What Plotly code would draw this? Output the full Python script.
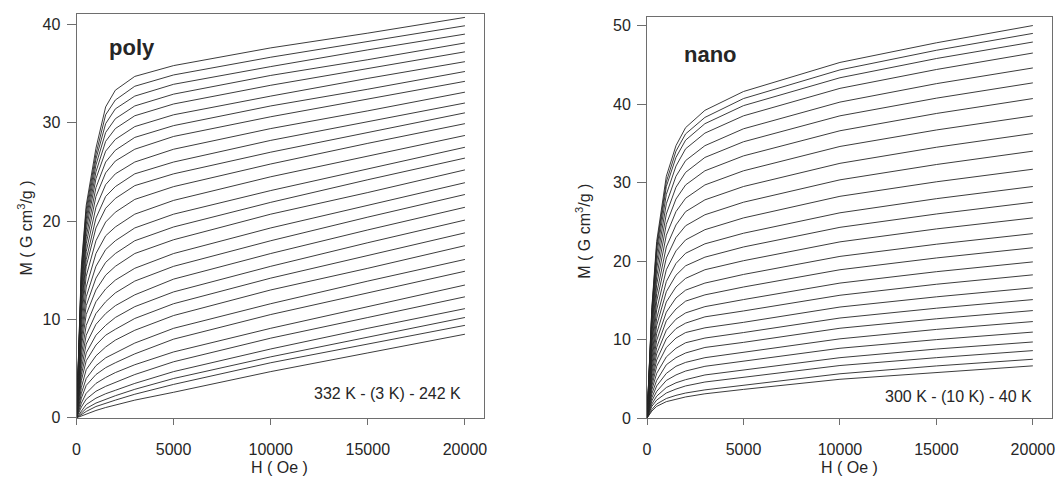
import plotly.graph_objects as go

# ---------------- data ----------------
# field values (Oe) at which the curves were read
poly_H = [0, 250, 500, 1000, 1500, 2000, 3000, 5000, 10000, 15000, 20000]
nano_H = [0, 250, 500, 1000, 1500, 2000, 3000, 5000, 10000, 15000, 20000]

# poly: curves listed from the top curve (lowest T) to the bottom curve
poly_T = [242, 245, 248, 251, 254, 257, 260, 263, 266, 269, 272, 275, 278, 281, 284,
          287, 290, 293, 296, 299, 302, 305, 308, 311, 314, 317, 320, 323, 326, 329]
poly_M_0 = [0, 0, 0, 0, 0, 0, 0, 0, 0, 0, 0, 0, 0, 0, 0,
            0, 0, 0, 0, 0, 0, 0, 0, 0, 0, 0, 0, 0, 0, 0]
poly_M_250 = [15.5, 15.1, 14.7, 14.3, 13.9, 13.4, 12.9, 12.4, 11.8, 11.2, 10.7, 10.0, 9.2, 8.5, 7.9,
              7.2, 6.4, 5.7, 5.0, 4.4, 3.8, 3.1, 2.5, 2.0, 1.5, 1.1, 0.7, 0.5, 0.35, 0.2]
poly_M_500 = [21.6, 21.2, 20.7, 20.2, 19.7, 19.1, 18.4, 17.7, 16.9, 16.1, 15.4, 14.4, 13.3, 12.3, 11.4,
              10.5, 9.4, 8.4, 7.5, 6.6, 5.8, 4.9, 4.0, 3.3, 2.5, 1.9, 1.35, 0.95, 0.65, 0.4]
poly_M_1000 = [27.4, 26.8, 26.3, 25.7, 25.0, 24.3, 23.4, 22.5, 21.4, 20.3, 19.3, 18.0, 16.7, 15.4, 14.2,
               13.0, 11.8, 10.6, 9.5, 8.4, 7.4, 6.3, 5.3, 4.4, 3.5, 2.7, 2.0, 1.5, 1.15, 0.75]
poly_M_1500 = [31.6, 30.8, 29.9, 29.0, 28.1, 27.1, 26.0, 24.9, 23.7, 22.5, 21.3, 19.9, 18.5, 17.1, 15.8,
               14.5, 13.1, 11.8, 10.6, 9.4, 8.4, 7.2, 6.1, 5.1, 4.1, 3.2, 2.45, 1.9, 1.5, 1.05]
poly_M_2000 = [33.3, 32.3, 31.4, 30.4, 29.4, 28.3, 27.2, 26.1, 24.8, 23.5, 22.3, 20.9, 19.4, 18.0, 16.7,
               15.4, 14.0, 12.7, 11.4, 10.2, 9.0, 7.9, 6.6, 5.6, 4.6, 3.6, 2.8, 2.25, 1.8, 1.3]
poly_M_3000 = [34.7, 33.7, 32.7, 31.7, 30.7, 29.6, 28.5, 27.3, 26.0, 24.8, 23.6, 22.2, 20.7, 19.3, 18.0,
               16.7, 15.2, 13.9, 12.5, 11.3, 10.1, 8.9, 7.6, 6.5, 5.4, 4.4, 3.5, 2.9, 2.4, 1.8]
poly_M_5000 = [35.8, 34.85, 33.9, 32.9, 31.9, 30.8, 29.7, 28.6, 27.3, 26.0, 24.8, 23.5, 22.1, 20.7, 19.4,
               18.1, 16.7, 15.4, 14.1, 12.8, 11.6, 10.4, 9.1, 8.0, 6.7, 5.7, 4.7, 4.0, 3.4, 2.6]
poly_M_10000 = [37.6, 36.65, 35.7, 34.8, 33.8, 32.7, 31.7, 30.6, 29.4, 28.2, 27.0, 25.8, 24.5, 23.1, 21.9,
                20.7, 19.3, 18.0, 16.7, 15.4, 14.2, 13.0, 11.6, 10.5, 9.1, 8.1, 7.0, 6.2, 5.6, 4.7]
poly_M_15000 = [39.1, 38.25, 37.4, 36.4, 35.5, 34.5, 33.4, 32.4, 31.2, 30.1, 29.0, 27.9, 26.6, 25.3, 24.2,
                22.9, 21.6, 20.4, 19.1, 17.8, 16.5, 15.2, 13.9, 12.7, 11.3, 10.2, 9.1, 8.2, 7.5, 6.6]
poly_M_20000 = [40.7, 39.85, 39.0, 38.1, 37.2, 36.2, 35.2, 34.2, 33.1, 32.0, 31.0, 29.9, 28.7, 27.5, 26.4,
                25.2, 23.9, 22.7, 21.4, 20.1, 18.8, 17.5, 16.1, 14.9, 13.5, 12.3, 11.1, 10.2, 9.4, 8.5]

# nano: curves listed from the top curve (40 K) to the bottom curve (300 K)
nano_T = [40, 50, 60, 70, 80, 90, 100, 110, 120, 130, 140, 150, 160, 170,
          180, 190, 200, 210, 220, 230, 240, 250, 260, 270, 280, 290, 300]
nano_M_0 = [0, 0, 0, 0, 0, 0, 0, 0, 0, 0, 0, 0, 0, 0,
            0, 0, 0, 0, 0, 0, 0, 0, 0, 0, 0, 0, 0]
nano_M_250 = [14.1, 13.8, 13.5, 13.1, 12.5, 12.0, 11.4, 10.7, 10.0, 9.4, 8.7, 8.0, 7.4, 6.8,
              6.2, 5.7, 5.1, 4.6, 4.1, 3.6, 3.1, 2.6, 2.2, 1.8, 1.5, 1.1, 0.9]
nano_M_500 = [22.5, 22.0, 21.5, 20.8, 19.9, 19.0, 18.0, 17.0, 15.9, 14.9, 13.8, 12.7, 11.8, 10.8,
              9.9, 9.0, 8.2, 7.4, 6.6, 5.7, 4.8, 4.1, 3.4, 2.8, 2.3, 1.8, 1.5]
nano_M_1000 = [30.8, 30.1, 29.5, 28.5, 27.3, 26.0, 24.7, 23.3, 21.8, 20.4, 18.9, 17.4, 16.1, 14.8,
               13.5, 12.4, 11.2, 10.1, 9.0, 7.8, 6.8, 5.7, 4.8, 3.9, 3.2, 2.5, 2.1]
nano_M_1500 = [34.7, 34.0, 33.2, 32.1, 30.8, 29.4, 27.9, 26.3, 24.6, 23.0, 21.3, 19.7, 18.2, 16.7,
               15.3, 13.9, 12.6, 11.4, 10.2, 8.9, 7.7, 6.6, 5.5, 4.5, 3.7, 2.9, 2.4]
nano_M_2000 = [37.0, 36.2, 35.4, 34.3, 32.8, 31.3, 29.7, 28.0, 26.3, 24.5, 22.7, 21.0, 19.4, 17.8,
               16.3, 14.9, 13.4, 12.1, 10.9, 9.6, 8.3, 7.1, 6.0, 4.9, 4.1, 3.2, 2.7]
nano_M_3000 = [39.2, 38.3, 37.5, 36.3, 34.7, 33.2, 31.5, 29.7, 27.8, 25.9, 24.0, 22.2, 20.5, 18.9,
               17.2, 15.7, 14.2, 12.9, 11.5, 10.2, 9.0, 7.7, 6.6, 5.5, 4.6, 3.6, 3.1]
nano_M_5000 = [41.6, 40.7, 39.8, 38.5, 36.85, 35.2, 33.4, 31.5, 29.5, 27.5, 25.5, 23.55, 21.8, 20.05,
               18.3, 16.7, 15.1, 13.65, 12.2, 10.9, 9.65, 8.4, 7.26, 6.15, 5.2, 4.2, 3.66]
nano_M_10000 = [45.3, 44.35, 43.35, 42.0, 40.25, 38.5, 36.6, 34.6, 32.45, 30.35, 28.25, 26.15, 24.3, 22.45,
                20.6, 18.9, 17.2, 15.65, 14.15, 12.75, 11.45, 10.1, 8.9, 7.7, 6.7, 5.65, 4.95]
nano_M_15000 = [47.8, 46.85, 45.8, 44.4, 42.6, 40.75, 38.8, 36.7, 34.5, 32.3, 30.1, 27.95, 26.0, 24.1,
                22.15, 20.4, 18.65, 17.05, 15.45, 14.0, 12.65, 11.3, 10.0, 8.8, 7.7, 6.65, 5.85]
nano_M_20000 = [50.0, 49.0, 47.9, 46.5, 44.6, 42.7, 40.7, 38.5, 36.25, 34.0, 31.7, 29.5, 27.5, 25.5,
                23.5, 21.7, 19.9, 18.25, 16.6, 15.1, 13.7, 12.3, 10.96, 9.7, 8.6, 7.5, 6.66]

x_ticks = [0, 5000, 10000, 15000, 20000]
x_tick_text = ["0", "5000", "10000", "15000", "20000"]
poly_y_ticks = [0, 10, 20, 30, 40]
nano_y_ticks = [0, 10, 20, 30, 40, 50]

poly_cols = [poly_M_0, poly_M_250, poly_M_500, poly_M_1000, poly_M_1500, poly_M_2000,
             poly_M_3000, poly_M_5000, poly_M_10000, poly_M_15000, poly_M_20000]
nano_cols = [nano_M_0, nano_M_250, nano_M_500, nano_M_1000, nano_M_1500, nano_M_2000,
             nano_M_3000, nano_M_5000, nano_M_10000, nano_M_15000, nano_M_20000]

# ---------------- figure ----------------
W, H = 1060, 488
FONT = "Liberation Sans, Arial, sans-serif"
TXT = "#262626"
AX = "#6e6e6e"
LINE = "#262626"

fig = go.Figure()

for i, T in enumerate(poly_T):
    fig.add_trace(go.Scatter(
        x=poly_H, y=[c[i] for c in poly_cols], mode="lines",
        line=dict(color=LINE, width=0.9), name=f"{T} K",
        xaxis="x", yaxis="y", showlegend=False))

for i, T in enumerate(nano_T):
    fig.add_trace(go.Scatter(
        x=nano_H, y=[c[i] for c in nano_cols], mode="lines",
        line=dict(color=LINE, width=0.9), name=f"{T} K",
        xaxis="x2", yaxis="y2", showlegend=False))


def px(x):
    return x / W


def py(y):
    return 1 - y / H


axis_common = dict(showgrid=False, zeroline=False, showline=True, linecolor=AX, linewidth=1,
                   mirror=True, ticks="outside", tickcolor=AX, tickwidth=1,
                   tickfont=dict(family=FONT, size=16, color=TXT))

fig.update_layout(
    width=W, height=H, autosize=False,
    margin=dict(l=0, r=0, t=0, b=0),
    paper_bgcolor="white", plot_bgcolor="white",
    font=dict(family=FONT, color=TXT),
    showlegend=False,
    xaxis=dict(domain=[px(73), px(483)], range=[0, 20972], tickvals=x_ticks, ticktext=x_tick_text,
               ticklen=6, ticklabelstandoff=11, anchor="y", **axis_common),
    yaxis=dict(domain=[py(425.7), py(14.7)], range=[0, 41.0], tickvals=poly_y_ticks,
               ticklen=9, ticklabelstandoff=3, anchor="x", **axis_common),
    xaxis2=dict(domain=[px(647.3), px(1055)], range=[0, 20994], tickvals=x_ticks, ticktext=x_tick_text,
                ticklen=6, ticklabelstandoff=11, anchor="y2", **axis_common),
    yaxis2=dict(domain=[py(426), py(17.3)], range=[0, 51.09], tickvals=nano_y_ticks,
                ticklen=9, ticklabelstandoff=3, anchor="x2", **axis_common),
)

ann = []
# panel labels
ann.append(dict(text="<b>poly</b>", x=px(104), y=py(48), xref="paper", yref="paper",
                xanchor="left", yanchor="middle", showarrow=False,
                font=dict(family=FONT, size=22, color=TXT)))
ann.append(dict(text="<b>nano</b>", x=px(683), y=py(56), xref="paper", yref="paper",
                xanchor="left", yanchor="middle", showarrow=False,
                font=dict(family=FONT, size=22, color=TXT)))
# temperature range notes
ann.append(dict(text="332 K - (3 K) - 242 K", x=px(462), y=py(401), xref="paper", yref="paper",
                xanchor="right", yanchor="middle", showarrow=False,
                font=dict(family=FONT, size=16, color=TXT)))
ann.append(dict(text="300 K - (10 K) - 40 K", x=px(1037), y=py(404), xref="paper", yref="paper",
                xanchor="right", yanchor="middle", showarrow=False,
                font=dict(family=FONT, size=16, color=TXT)))
# axis titles
for xc in (277, 851):
    ann.append(dict(text="H ( Oe )", x=px(xc), y=0, xref="paper", yref="paper",
                    xanchor="center", yanchor="bottom", yshift=1, showarrow=False,
                    font=dict(family=FONT, size=16, color=TXT)))
for xc, yc in ((21, 232), (583, 236)):
    ann.append(dict(text="M ( G cm<sup>3</sup>/g )", x=px(xc), y=py(yc), xref="paper", yref="paper",
                    xanchor="center", yanchor="middle", textangle=-90, showarrow=False,
                    font=dict(family=FONT, size=16, color=TXT)))
fig.update_layout(annotations=ann)

fig.write_html("out.html")
